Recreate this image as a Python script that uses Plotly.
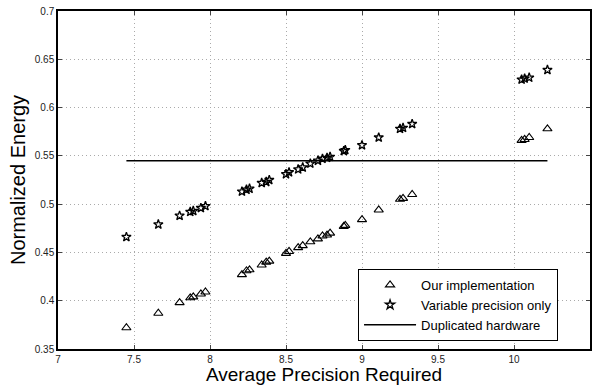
import plotly.graph_objects as go

# Average precision required (x) shared by both measured series
precision = [7.45, 7.66, 7.80, 7.87, 7.89, 7.94, 7.97, 8.21, 8.24, 8.26, 8.34,
             8.37, 8.39, 8.50, 8.52, 8.58, 8.61, 8.66, 8.71, 8.74, 8.77, 8.79,
             8.88, 8.89, 9.00, 9.11, 9.25, 9.27, 9.33, 10.05, 10.07, 10.10, 10.22]

energy_ours = [0.372, 0.387, 0.398, 0.403, 0.404, 0.407, 0.409, 0.427, 0.431,
               0.432, 0.437, 0.440, 0.441, 0.449, 0.451, 0.455, 0.457, 0.461,
               0.464, 0.467, 0.468, 0.470, 0.477, 0.478, 0.484, 0.494, 0.505,
               0.506, 0.510, 0.566, 0.567, 0.569, 0.578]

energy_varprec = [0.466, 0.479, 0.488, 0.492, 0.493, 0.496, 0.498, 0.513, 0.515,
                  0.516, 0.522, 0.523, 0.525, 0.531, 0.533, 0.536, 0.538, 0.542,
                  0.545, 0.547, 0.548, 0.549, 0.555, 0.556, 0.561, 0.569, 0.578,
                  0.579, 0.583, 0.629, 0.630, 0.631, 0.639]

dup_x = [7.45, 10.22]
dup_y = [0.545, 0.545]

x_ticks = [7, 7.5, 8, 8.5, 9, 9.5, 10, 10.5]
x_ticktext = ["7", "7.5", "8", "8.5", "9", "9.5", "10", "10.5"]
y_ticks = [0.35, 0.4, 0.45, 0.5, 0.55, 0.6, 0.65, 0.7]
y_ticktext = ["0.35", "0.4", "0.45", "0.5", "0.55", "0.6", "0.65", "0.7"]

FONT = "Liberation Sans, Arial, Helvetica, sans-serif"

fig = go.Figure()
fig.add_trace(go.Scatter(
    x=precision, y=energy_ours, mode="markers", name="Our implementation",
    marker=dict(symbol="triangle-up-open", size=8, color="black",
                line=dict(width=1.1, color="black"))))
fig.add_trace(go.Scatter(
    x=precision, y=energy_varprec, mode="markers", name="Variable precision only",
    marker=dict(symbol="star-open", size=7, color="black",
                line=dict(width=1.3, color="black"))))
fig.add_trace(go.Scatter(
    x=dup_x, y=dup_y, mode="lines", name="Duplicated hardware",
    line=dict(color="black", width=1.5)))

axis_common = dict(
    showline=True, linecolor="black", linewidth=1.5, mirror="ticks",
    ticks="inside", ticklen=4, tickcolor="#444", tickwidth=1,
    showgrid=True, gridcolor="#aaa", griddash="1px,3px", gridwidth=1,
    zeroline=False, automargin=False,
    tickfont=dict(family=FONT, size=10, color="#222"),
)

fig.update_layout(
    width=600, height=385,
    margin=dict(l=58, r=10, t=11, b=36, pad=0),
    paper_bgcolor="white", plot_bgcolor="white",
    font=dict(family=FONT, color="black"),
    showlegend=True,
    legend=dict(
        x=0.564, y=0.024, xanchor="left", yanchor="bottom",
        bgcolor="white", bordercolor="black", borderwidth=1,
        font=dict(family=FONT, size=13, color="black"),
        itemwidth=52, tracegroupgap=0,
    ),
    xaxis=dict(range=[7, 10.5], tickvals=x_ticks, ticktext=x_ticktext,
               title=dict(text="Average Precision Required",
                          font=dict(family=FONT, size=19, color="black"),
                          standoff=6),
               **axis_common),
    yaxis=dict(range=[0.35, 0.7], tickvals=y_ticks, ticktext=y_ticktext,
               title=dict(text="Normalized Energy",
                          font=dict(family=FONT, size=20, color="black"),
                          standoff=4),
               **axis_common),
)

fig.write_html("out.html")
